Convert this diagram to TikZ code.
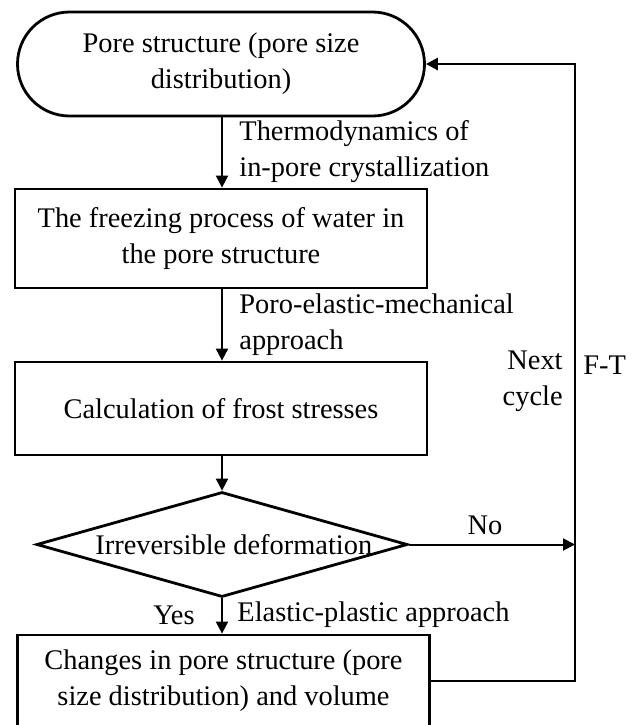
\documentclass[tikz,border=0pt]{standalone}
\usepackage{fontspec}
\setmainfont{Liberation Serif}
\usetikzlibrary{arrows.meta,positioning,shapes.geometric}

\begin{document}
\begin{tikzpicture}[
    x=0.5pt, y=-0.5pt,
    font=\fontsize{14.2pt}{18pt}\selectfont,
    flowbox/.style={draw, line width=1.4pt, minimum width=206pt, align=center, inner sep=0pt},
    flowarrow/.style={line width=1pt, -{Triangle[length=6pt,width=6pt]}},
    flowlabel/.style={inner sep=0pt}
  ]
  \useasboundingbox (0,0) rectangle (636,725);
  \fill[white] (0,0) rectangle (636,725);
  \clip (0,0) rectangle (636,725);

  \node[flowbox, rounded corners=26pt, minimum width=203.5pt, minimum height=52pt] (pore) at (221,64)
    {Pore structure (pore size\\distribution)};
  \node[flowbox, minimum height=49.5pt] (freeze) at (221,238.5)
    {The freezing process of water in\\the pore structure};
  \node[flowbox, minimum height=46.5pt] (stress) at (221,408.5)
    {Calculation of frost stresses};
  \node[
    draw,
    diamond,
    line width=1.4pt,
    minimum width=185.5pt,
    minimum height=52.5pt,
    inner sep=0pt
  ] (irrev) at (222,544.5) {};
  \node[flowlabel, anchor=west] (irrevtext) at (95,545) {Irreversible deformation};
  \node[flowbox, minimum height=46pt] (change) at (223.5,681)
    {Changes in pore structure (pore\\size distribution) and volume};

  \coordinate (turn) at (575,681);

  \draw[flowarrow] (pore.south -| 222,0) -- (freeze.north -| 222,0);
  \draw[flowarrow] (freeze.south -| 222,0) -- (stress.north -| 222,0);
  \draw[flowarrow] (stress.south -| 222,0) -- (irrev.north);
  \draw[flowarrow] (irrev.south) -- (change.north -| irrev.south);
  \draw[flowarrow] (irrev.east) -- (irrev.east -| turn);
  \draw[flowarrow, line width=1.3pt] (change.east) -- (turn) |- (pore.east);

  \node[flowlabel, anchor=west, align=left] (thermo) at (239,151.5)
    {Thermodynamics of\\in-pore crystallization};
  \node[flowlabel, anchor=west, align=left] (poro) at (239,325)
    {Poro-elastic-mechanical\\approach};
  \node[flowlabel, anchor=east, align=right] (next) at (563,381) {Next\\cycle};
  \node[flowlabel, anchor=west] (ft) at (583,365) {F-T};
  \node[flowlabel] (no) at (485,525) {No};
  \node[flowlabel, anchor=east] (yes) at (195,615) {Yes};
  \node[flowlabel, anchor=west] (elastic) at (237,615) {Elastic-plastic approach};
\end{tikzpicture}
\end{document}
